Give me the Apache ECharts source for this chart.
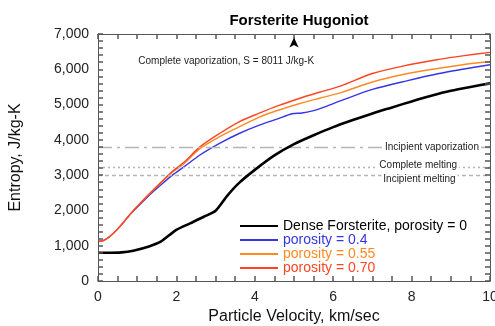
<!DOCTYPE html>
<html>
<head>
<meta charset="utf-8">
<script src="https://cdn.jsdelivr.net/npm/echarts@6/dist/echarts.min.js"></script>
<style>html,body{margin:0;padding:0;background:#fff}#c{width:495px;height:326px}</style>
</head>
<body>
<div id="c"></div>
<script>
// ---- data ----
var denseVel = [0, 0.3, 0.6, 0.9, 1.3, 1.6, 2.0, 2.35, 2.7, 3.0, 3.3, 3.6, 4.0, 4.5, 5.0, 5.5, 6.0, 6.5, 7.0, 7.5, 8.0, 8.5, 9.0, 9.5, 10];
var denseS   = [800, 800, 810, 860, 980, 1115, 1450, 1635, 1820, 1990, 2420, 2780, 3150, 3560, 3880, 4130, 4360, 4560, 4750, 4920, 5090, 5250, 5390, 5500, 5600];

var p40Vel = [0, 0.15, 0.3, 0.5, 0.85, 1.25, 1.6, 1.9, 2.2, 2.6, 3.1, 3.6, 4.1, 4.6, 4.95, 5.2, 5.5, 5.7, 6.2, 7.0, 7.9, 8.7, 9.3, 10];
var p40S   = [1120, 1150, 1260, 1470, 1920, 2370, 2720, 3000, 3240, 3570, 3900, 4180, 4410, 4600, 4740, 4760, 4830, 4900, 5110, 5430, 5680, 5880, 6000, 6130];

var p55Vel = [0, 0.15, 0.3, 0.5, 0.85, 1.25, 1.6, 1.9, 2.2, 2.6, 3.1, 3.6, 4.1, 4.6, 5.15, 5.65, 6.2, 7.0, 7.9, 8.7, 9.3, 10];
var p55S   = [1120, 1150, 1260, 1470, 1930, 2400, 2780, 3080, 3330, 3750, 4090, 4370, 4640, 4840, 5030, 5180, 5340, 5640, 5880, 6030, 6130, 6220];

var p70Vel = [0, 0.15, 0.3, 0.5, 0.85, 1.25, 1.6, 1.9, 2.2, 2.6, 3.1, 3.6, 4.1, 4.6, 5.15, 5.65, 6.2, 7.0, 7.9, 8.7, 9.3, 10];
var p70S   = [1120, 1150, 1260, 1470, 1930, 2400, 2790, 3110, 3370, 3800, 4180, 4510, 4750, 4970, 5180, 5350, 5530, 5880, 6120, 6280, 6380, 6480];

var seriesNames = ['Dense Forsterite, porosity = 0', 'porosity = 0.4', 'porosity = 0.55', 'porosity = 0.70'];
var refLevels = [3800, 3220, 3000];           // incipient vaporization, complete melting, incipient melting
var refNames  = ['Incipient vaporization', 'Complete melting', 'Incipient melting'];
var vaporArrowX = 5;
var vaporNote = 'Complete vaporization, S = 8011 J/kg-K';
var xLabelStep = 2, xTickStep = 0.5;
var yLabelStep = 1000, yTickStep = 200;
var yMax = 7000;

function pairs(xs, ys){ return xs.map(function(x,i){ return [x, ys[i]]; }); }

var colors = ['#000000', '#3535e6', '#ff8a24', '#ff4422'];
var FONT = 'Liberation Sans, Arial, Helvetica, sans-serif';

var chart = echarts.init(document.getElementById('c'), null, {renderer:'canvas'});

function onStep(v, step){ var r = v / step; return Math.abs(r - Math.round(r)) < 1e-6; }

function axisBase(){
  return {
    axisLine: {show: true, onZero: false, lineStyle: {color: '#555', width: 1}},
    axisTick: {show: true, inside: true, length: 5, interval: 0, lineStyle: {color: '#555', width: 1.5}},
    minorTick: {show: false},
    splitLine: {show: false}
  };
}

var option = {
  animation: false,
  textStyle: {fontFamily: FONT},
  title: {
    text: 'Forsterite Hugoniot', left: 294, top: 8, textAlign: 'center',
    textStyle: {fontSize: 15, fontWeight: 'bold', color: '#000', fontFamily: FONT}
  },
  grid: {left: 98, right: 5, top: 34, bottom: 45, containLabel: false, outerBoundsMode: 'none'},
  legend: {
    orient: 'vertical', left: 240, top: 219, padding: 0,
    icon: 'rect',
    itemWidth: 38, itemHeight: 2, itemGap: 0,
    textStyle: {fontSize: 14, lineHeight: 11.7, fontFamily: FONT},
    data: seriesNames.map(function(n, i){ return {name: n, textStyle: {color: colors[i]}}; })
  },
  xAxis: [
    Object.assign(axisBase(), {
      type: 'value', min: 0, max: 10, interval: xTickStep, position: 'bottom', z: 10,
      axisLabel: {fontSize: 14, color: '#222', margin: 9, fontFamily: FONT,
        formatter: function(v){ return onStep(v, xLabelStep) ? String(v) : ''; }},
      name: 'Particle Velocity, km/sec', nameLocation: 'middle', nameGap: 28,
      nameTextStyle: {fontSize: 16, color: '#111', fontFamily: FONT}
    }),
    Object.assign(axisBase(), {
      type: 'value', min: 0, max: 10, interval: xTickStep, position: 'top', z: 10,
      axisLabel: {show: false}
    })
  ],
  yAxis: [
    Object.assign(axisBase(), {
      type: 'value', min: 0, max: yMax, interval: yTickStep, position: 'left', z: 10,
      axisLabel: {fontSize: 14, color: '#222', margin: 9, fontFamily: FONT,
        formatter: function(v){ return onStep(v, yLabelStep) ? v.toLocaleString('en-US') : ''; }},
      name: 'Entropy, J/kg-K', nameLocation: 'middle', nameGap: 74, nameRotate: 90,
      nameTextStyle: {fontSize: 16, color: '#111', fontFamily: FONT}
    }),
    Object.assign(axisBase(), {
      type: 'value', min: 0, max: yMax, interval: yTickStep, position: 'right', z: 10,
      axisLabel: {show: false}
    })
  ],
  series: [
    {
      name: seriesNames[0], type: 'line', symbol: 'none', z: 5,
      smooth: 0.25,
      data: pairs(denseVel, denseS),
      lineStyle: {color: colors[0], width: 2.6}, itemStyle: {color: colors[0]},
      markLine: {
        silent: true, symbol: 'none', animation: false,
        label: {show: false},
        data: [
          {yAxis: refLevels[0], lineStyle: {color: '#b5b5b5', width: 1.3, type: [14, 5, 3, 5]}},
          {yAxis: refLevels[1], lineStyle: {color: '#b5b5b5', width: 1.3, type: [2, 3]}},
          {yAxis: refLevels[2], lineStyle: {color: '#b5b5b5', width: 1.3, type: [4, 3]}},
          [{coord: [vaporArrowX, 6700], symbol: 'none', lineStyle: {color: '#000', width: 1, type: 'solid'}},
           {coord: [vaporArrowX, yMax - 100], symbol: 'arrow', symbolSize: [7, 10]}]
        ]
      }
    },
    {
      name: seriesNames[1], type: 'line', symbol: 'none', z: 4,
      smooth: 0.3,
      data: pairs(p40Vel, p40S),
      lineStyle: {color: colors[1], width: 1.4}, itemStyle: {color: colors[1]}
    },
    {
      name: seriesNames[2], type: 'line', symbol: 'none', z: 4,
      smooth: 0.3,
      data: pairs(p55Vel, p55S),
      lineStyle: {color: colors[2], width: 1.4}, itemStyle: {color: colors[2]}
    },
    {
      name: seriesNames[3], type: 'line', symbol: 'none', z: 4,
      smooth: 0.3,
      data: pairs(p70Vel, p70S),
      lineStyle: {color: colors[3], width: 1.4}, itemStyle: {color: colors[3]}
    }
  ]
};
chart.setOption(option);

function px(v, s){ return chart.convertToPixel({xAxisIndex: 0, yAxisIndex: 0}, [v, s]); }

var noteP = px(3.27, 6214);
var vapP = px(8.52, refLevels[0]);
var cmP = px(8.17, refLevels[1]);
var imP = px(8.2, refLevels[2]);
function txt(p, s, dy, bg){
  return {
    type: 'text', x: p[0], y: p[1] + dy, z: 100,
    style: {text: s, fontSize: 10, fontFamily: FONT, fill: '#222',
      align: 'center', verticalAlign: 'middle',
      backgroundColor: bg ? '#fff' : null, padding: bg ? [0, 2] : 0}
  };
}
chart.setOption({
  graphic: [
    txt(noteP, vaporNote, 0, false),
    txt(vapP, refNames[0], 0, true),
    txt(cmP, refNames[1], -2, true),
    txt(imP, refNames[2], 4.5, true)
  ]
});
</script>
</body>
</html>
